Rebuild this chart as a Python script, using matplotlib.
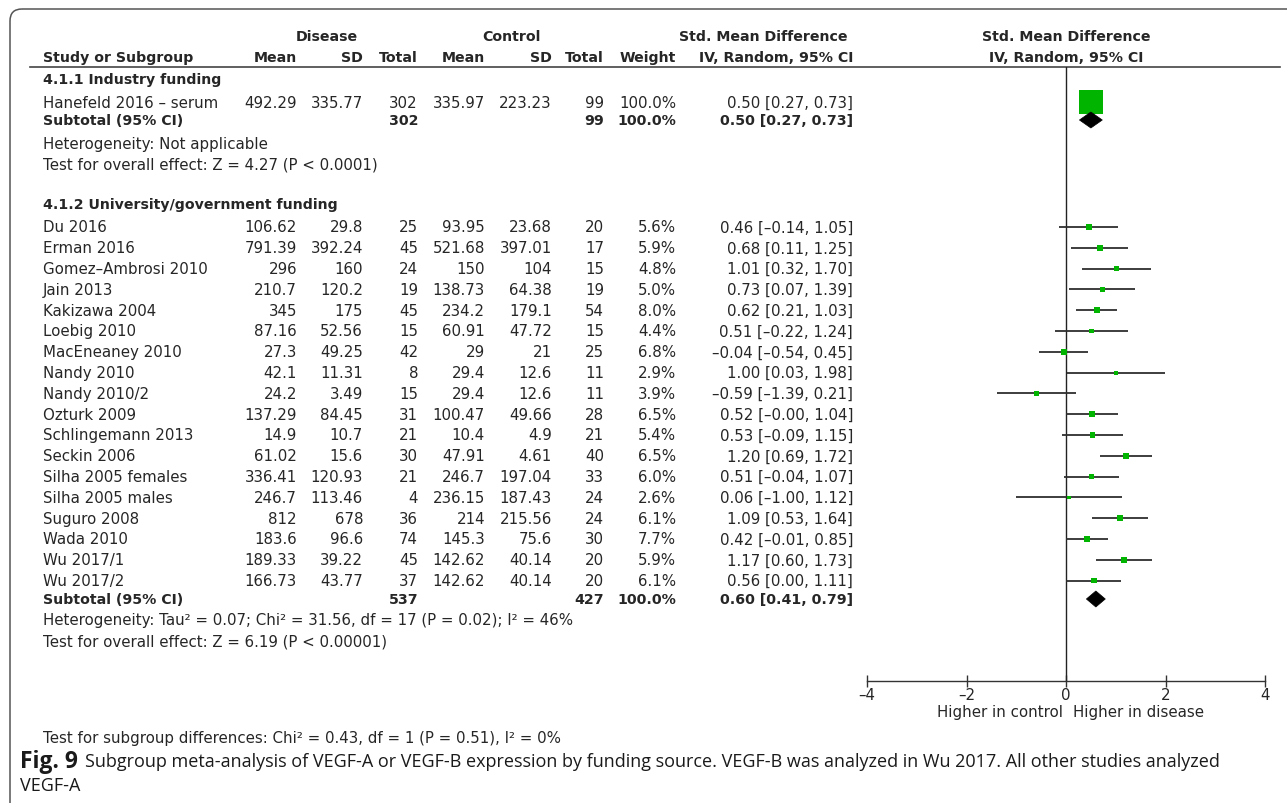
import numpy as np
import matplotlib.pyplot as plt
from matplotlib.patches import FancyBboxPatch, Polygon

W, H = 1287, 804
DASH = "\u2013"

# 4.1.1 Industry funding
ind_study = ["Hanefeld 2016 " + DASH + " serum"]
ind_d_mean = [492.29]
ind_d_sd = [335.77]
ind_d_n = [302]
ind_c_mean = [335.97]
ind_c_sd = [223.23]
ind_c_n = [99]
ind_weight = [100.0]
ind_smd = [0.50]
ind_lo = [0.27]
ind_hi = [0.73]
ind_sub = [302, 99, 100.0, 0.50, 0.27, 0.73]

# 4.1.2 University/government funding
uni_study = ["Du 2016", "Erman 2016", "Gomez" + DASH + "Ambrosi 2010", "Jain 2013",
             "Kakizawa 2004", "Loebig 2010", "MacEneaney 2010", "Nandy 2010",
             "Nandy 2010/2", "Ozturk 2009", "Schlingemann 2013", "Seckin 2006",
             "Silha 2005 females", "Silha 2005 males", "Suguro 2008", "Wada 2010",
             "Wu 2017/1", "Wu 2017/2"]
uni_d_mean = [106.62, 791.39, 296, 210.7, 345, 87.16, 27.3, 42.1, 24.2, 137.29,
              14.9, 61.02, 336.41, 246.7, 812, 183.6, 189.33, 166.73]
uni_d_sd = [29.8, 392.24, 160, 120.2, 175, 52.56, 49.25, 11.31, 3.49, 84.45,
            10.7, 15.6, 120.93, 113.46, 678, 96.6, 39.22, 43.77]
uni_d_n = [25, 45, 24, 19, 45, 15, 42, 8, 15, 31, 21, 30, 21, 4, 36, 74, 45, 37]
uni_c_mean = [93.95, 521.68, 150, 138.73, 234.2, 60.91, 29, 29.4, 29.4, 100.47,
              10.4, 47.91, 246.7, 236.15, 214, 145.3, 142.62, 142.62]
uni_c_sd = [23.68, 397.01, 104, 64.38, 179.1, 47.72, 21, 12.6, 12.6, 49.66,
            4.9, 4.61, 197.04, 187.43, 215.56, 75.6, 40.14, 40.14]
uni_c_n = [20, 17, 15, 19, 54, 15, 25, 11, 11, 28, 21, 40, 33, 24, 24, 30, 20, 20]
uni_weight = [5.6, 5.9, 4.8, 5.0, 8.0, 4.4, 6.8, 2.9, 3.9, 6.5, 5.4, 6.5, 6.0,
              2.6, 6.1, 7.7, 5.9, 6.1]
uni_smd = [0.46, 0.68, 1.01, 0.73, 0.62, 0.51, -0.04, 1.00, -0.59, 0.52, 0.53,
           1.20, 0.51, 0.06, 1.09, 0.42, 1.17, 0.56]
uni_lo = [-0.14, 0.11, 0.32, 0.07, 0.21, -0.22, -0.54, 0.03, -1.39, -0.0, -0.09,
          0.69, -0.04, -1.00, 0.53, -0.01, 0.60, 0.00]
uni_hi = [1.05, 1.25, 1.70, 1.39, 1.03, 1.24, 0.45, 1.98, 0.21, 1.04, 1.15,
          1.72, 1.07, 1.12, 1.64, 0.85, 1.73, 1.11]
uni_sub = [537, 427, 100.0, 0.60, 0.41, 0.79]

ticks = [-4, -2, 0, 2, 4]

TXT = "#262626"
GREEN = "#00b400"
FS = 10.8      # regular table text
FSB = 10.2     # bold table text
plt.rcParams["font.family"] = "DejaVu Sans"


def num(v):
    return f"{v:g}".replace("-", DASH)


def ci(m, lo, hi):
    return f"{m:.2f} [{lo:.2f}, {hi:.2f}]".replace("-", DASH)


fig = plt.figure(figsize=(W / 100, H / 100), dpi=100)
tab = fig.add_axes([0, 0, 1, 1])
tab.set_xlim(0, W)
tab.set_ylim(H, 0)
tab.axis("off")

# rounded frame (right and bottom edges run off the page)
tab.add_patch(FancyBboxPatch((10, 10), 1400, 830, boxstyle="round,pad=0,rounding_size=12",
                             fc="none", ec="#555555", lw=1.1))

# column right edges
col_x = [297, 363, 418, 485, 552, 604, 676, 853]


def put(x, y, s, ha="right", bold=False, size=None):
    if size is None:
        size = FSB if bold else FS
    tab.text(x, y, s, ha=ha, va="center", fontsize=size, color=TXT,
             fontweight="bold" if bold else "normal")


# header
put(327, 37, "Disease", ha="center", bold=True)
put(511, 37, "Control", ha="center", bold=True)
put(763, 37, "Std. Mean Difference", ha="center", bold=True)
put(1066, 37, "Std. Mean Difference", ha="center", bold=True)
put(43, 58, "Study or Subgroup", ha="left", bold=True)
for x, s in zip(col_x, ["Mean", "SD", "Total", "Mean", "SD", "Total", "Weight",
                        "IV, Random, 95% CI"]):
    put(x, 58, s, bold=True)
put(1066, 58, "IV, Random, 95% CI", ha="center", bold=True)
tab.plot([30, 1280], [68, 68], color="#444444", lw=1.2)


def study_rows(ys, names, dm, dsd, dn, cm, csd, cn, w, smd, lo, hi):
    for i, y in enumerate(ys):
        put(43, y, names[i], ha="left")
        vals = [num(dm[i]), num(dsd[i]), str(dn[i]), num(cm[i]), num(csd[i]),
                str(cn[i]), f"{w[i]:.1f}%", ci(smd[i], lo[i], hi[i])]
        for x, s in zip(col_x, vals):
            put(x, y, s)


def subtotal_row(y, sub):
    put(43, y, "Subtotal (95% CI)", ha="left", bold=True)
    put(col_x[2], y, str(sub[0]), bold=True)
    put(col_x[5], y, str(sub[1]), bold=True)
    put(col_x[6], y, f"{sub[2]:.1f}%", bold=True)
    put(col_x[7], y, ci(sub[3], sub[4], sub[5]), bold=True)


# subgroup 1
put(43, 80, "4.1.1 Industry funding", ha="left", bold=True)
y_ind = [103]
study_rows(y_ind, ind_study, ind_d_mean, ind_d_sd, ind_d_n, ind_c_mean, ind_c_sd,
           ind_c_n, ind_weight, ind_smd, ind_lo, ind_hi)
subtotal_row(121, ind_sub)
put(43, 144, "Heterogeneity: Not applicable", ha="left")
put(43, 165, "Test for overall effect: Z = 4.27 (P < 0.0001)", ha="left")

# subgroup 2
put(43, 205, "4.1.2 University/government funding", ha="left", bold=True)
y_uni = [228 + 20.8 * i for i in range(len(uni_study))]
study_rows(y_uni, uni_study, uni_d_mean, uni_d_sd, uni_d_n, uni_c_mean, uni_c_sd,
           uni_c_n, uni_weight, uni_smd, uni_lo, uni_hi)
subtotal_row(600, uni_sub)
put(43, 621, "Heterogeneity: Tau\u00b2 = 0.07; Chi\u00b2 = 31.56, df = 17 (P = 0.02); I\u00b2 = 46%",
    ha="left")
put(43, 642, "Test for overall effect: Z = 6.19 (P < 0.00001)", ha="left")
put(43, 739, "Test for subgroup differences: Chi\u00b2 = 0.43, df = 1 (P = 0.51), I\u00b2 = 0%",
    ha="left")

# forest plot panel, y in the same row units as the table
ax = fig.add_axes([867 / W, (H - 682) / H, (1265 - 867) / W, (682 - 68) / H])
ax.set_xlim(-4, 4)
ax.set_ylim(682, 68)
ax.patch.set_alpha(0)
for s in ["top", "right", "left"]:
    ax.spines[s].set_visible(False)
ax.spines["bottom"].set_color("#333333")
ax.spines["bottom"].set_linewidth(1.0)
ax.set_yticks([])
ax.set_xticks(ticks)
ax.set_xticklabels([num(t) for t in ticks])
ax.tick_params(axis="x", direction="inout", length=8, width=1.0, color="#333333",
               labelsize=FS, labelcolor=TXT, pad=0)
ax.axvline(0, color="#222222", lw=1.0)


def forest(ys, smd, lo, hi, w):
    for y, m, l, h in zip(ys, smd, lo, hi):
        ax.plot([l, h], [y, y], color="#2e2e2e", lw=1.3, solid_capstyle="butt", zorder=2)
    ax.scatter(smd, ys, s=[2.75 * v for v in w], marker="s", color=GREEN,
               linewidths=0, zorder=3)


def diamond(y, sub):
    m, l, h = sub[3], sub[4], sub[5]
    ax.add_patch(Polygon([(l, y), (m, y - 8), (h, y), (m, y + 8)], closed=True,
                         fc="black", ec="black", lw=0.5, zorder=3))


forest(y_ind, ind_smd, ind_lo, ind_hi, ind_weight)
forest(y_uni, uni_smd, uni_lo, uni_hi, uni_weight)
diamond(121, ind_sub)
diamond(600, uni_sub)

put(1063, 713, "Higher in control", ha="right")
put(1073, 713, "Higher in disease", ha="left")

# caption
cap_font = ["Open Sans", "DejaVu Sans"]
fig_lbl = tab.text(20, 762, "Fig. 9", ha="left", va="center", fontsize=16.5,
                   fontweight="bold", family=cap_font, color="#1a1a1a")
fig.canvas.draw()
bb = fig_lbl.get_window_extent()
x_rest = bb.x1 + 7
tab.text(x_rest, 762, "Subgroup meta-analysis of VEGF-A or VEGF-B expression by funding source. "
         "VEGF-B was analyzed in Wu 2017. All other studies analyzed",
         ha="left", va="center", fontsize=13.0, family=cap_font, color="#1a1a1a")
tab.text(20, 786, "VEGF-A", ha="left", va="center", fontsize=13.0, family=cap_font,
         color="#1a1a1a")

fig.savefig("out.png", dpi=100)
